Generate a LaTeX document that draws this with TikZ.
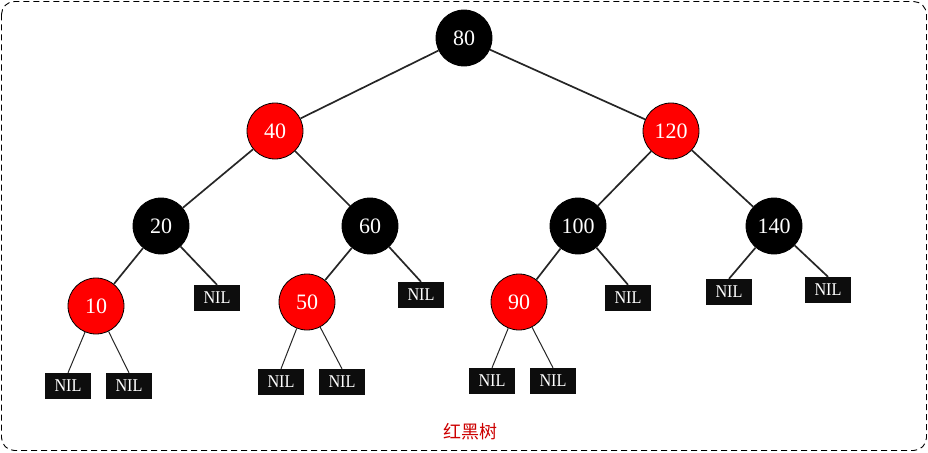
\documentclass[tikz,border=0pt]{standalone}
\usepackage{fontspec}
\setmainfont{Liberation Serif}
\newfontfamily\cjk{Noto Sans CJK SC}
\begin{document}
\begin{tikzpicture}[x=1pt,y=-1pt,
  rbn/.style={circle,draw=black,line width=0.8pt,minimum size=56pt,inner sep=0pt,text=white,font=\fontsize{22}{22}\selectfont},
  blk/.style={rbn,fill=black},
  redn/.style={rbn,fill=red},
  nil/.style={rectangle,fill=black!95,minimum width=46pt,minimum height=26pt,inner sep=0pt,text=white,font=\fontsize{18}{18}\selectfont},
  edge/.style={draw=black!85,line width=1.7pt},
  leaf/.style={draw=black!85,line width=1pt}]
\useasboundingbox (0,0) rectangle (928,452);
\draw[line width=0.9pt,rounded corners=13pt,dash pattern=on 6pt off 4pt] (1.5,1.5) rectangle (926.5,450.5);
\node[blk] (n80) at (464,38) {80};
\node[redn] (n40) at (275,131) {40};
\node[redn] (n120) at (671,131) {120};
\node[blk] (n20) at (161,226) {20};
\node[blk] (n60) at (370,226) {60};
\node[blk] (n100) at (578,226) {100};
\node[blk] (n140) at (774,226) {140};
\node[redn] (n10) at (96,306) {10};
\node[redn] (n50) at (307,302) {50};
\node[redn] (n90) at (519,302) {90};
\node[nil] (z20) at (217,298) {\scalebox{0.9}[1]{NIL}};
\node[nil] (z60) at (421,295) {\scalebox{0.9}[1]{NIL}};
\node[nil] (z100) at (628,298) {\scalebox{0.9}[1]{NIL}};
\node[nil] (z140a) at (729,292) {\scalebox{0.9}[1]{NIL}};
\node[nil] (z140b) at (828,290) {\scalebox{0.9}[1]{NIL}};
\node[nil] (z10a) at (68,386) {\scalebox{0.9}[1]{NIL}};
\node[nil] (z10b) at (129,386) {\scalebox{0.9}[1]{NIL}};
\node[nil] (z50a) at (281,382) {\scalebox{0.9}[1]{NIL}};
\node[nil] (z50b) at (342,382) {\scalebox{0.9}[1]{NIL}};
\node[nil] (z90a) at (492,381) {\scalebox{0.9}[1]{NIL}};
\node[nil] (z90b) at (553,381) {\scalebox{0.9}[1]{NIL}};
\node[text=red!80!black,font=\cjk\fontsize{18}{18}\selectfont] (cap) at (470,432) {红黑树};
\path[edge] (n80) -- (n40);
\path[edge] (n80) -- (n120);
\path[edge] (n40) -- (n20);
\path[edge] (n40) -- (n60);
\path[edge] (n120) -- (n100);
\path[edge] (n120) -- (n140);
\path[edge] (n20) -- (n10);
\path[edge] (n20) -- (z20.north);
\path[edge] (n60) -- (n50);
\path[edge] (n60) -- (z60.north);
\path[edge] (n100) -- (n90);
\path[edge] (n100) -- (z100.north);
\path[edge] (n140) -- (z140a.north);
\path[edge] (n140) -- (z140b.north);
\path[leaf] (n10) -- (z10a.north);
\path[leaf] (n10) -- (z10b.north);
\path[leaf] (n50) -- (z50a.north);
\path[leaf] (n50) -- (z50b.north);
\path[leaf] (n90) -- (z90a.north);
\path[leaf] (n90) -- (z90b.north);
\end{tikzpicture}
\end{document}
